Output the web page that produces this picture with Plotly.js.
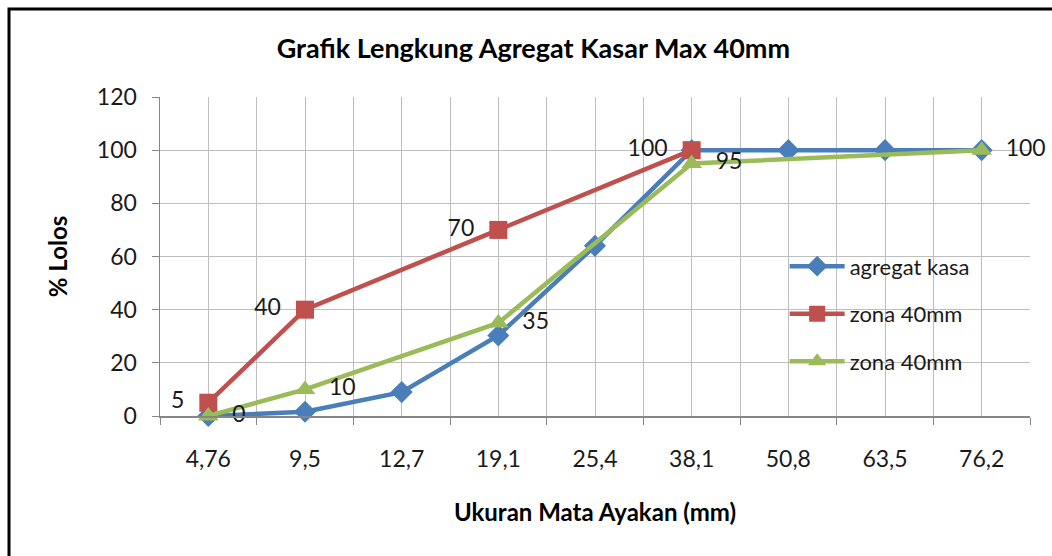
<!DOCTYPE html>
<html>
<head>
<meta charset="utf-8">
<script src="https://cdn.plot.ly/plotly-3.0.1.min.js"></script>
<style>
html,body{margin:0;padding:0;background:#fff;}
#chart{width:1052px;height:556px;}
</style>
</head>
<body>
<div id="chart"></div>
<script>
// Sieve sizes (mm)
const categories = ["4,76", "9,5", "12,7", "19,1", "25,4", "38,1", "50,8", "63,5", "76,2"];
// % passing
const agregatKasar = [0, 1.6, 9, 30.3, 64, 100, 100, 100, 100];
const zonaAtas = [5, 40, null, 70, null, 100, null, null, null];
const zonaBawah = [0, 10, null, 35, null, 95, null, null, 100];
const seriesNames = ["agregat kasa", "zona 40mm", "zona 40mm"];
const yTicks = [0, 20, 40, 60, 80, 100, 120];

const idx = categories.map((_, i) => i);
const bounds = categories.map((_, i) => i - 0.5).concat([categories.length - 0.5]);

const FONT = "Lato, 'Open Sans', sans-serif";
const labelFont = {family: FONT, size: 23, color: "#1a1a1a"};

const traces = [
  {
    x: idx, y: agregatKasar, name: seriesNames[0], type: "scatter", mode: "lines+markers",
    line: {color: "#4A7EBB", width: 4.5},
    marker: {symbol: "diamond", size: 17, color: "#4A7EBB"},
    legendgroup: "a", cliponaxis: false
  },
  {
    x: idx, y: zonaAtas, name: seriesNames[1], type: "scatter", mode: "lines+markers+text",
    connectgaps: true,
    line: {color: "#C0504D", width: 4.5},
    marker: {symbol: "square", size: 18, color: "#C0504D"},
    text: zonaAtas.map(v => v === null ? "" : String(v)),
    texttemplate: "%{text}  ",
    textposition: "middle left", textfont: labelFont,
    legendgroup: "b", cliponaxis: false
  },
  {
    x: idx, y: zonaBawah, name: seriesNames[2], type: "scatter", mode: "lines+markers+text",
    connectgaps: true,
    line: {color: "#9BBB59", width: 4.5},
    marker: {symbol: "triangle-up", size: 18, color: "#9BBB59"},
    text: zonaBawah.map(v => v === null ? "" : String(v)),
    texttemplate: "  %{text}",
    textposition: "middle right", textfont: labelFont,
    legendgroup: "c", cliponaxis: false
  }
];

const gridColor = "#BEBEBE";
const axisColor = "#868686";

const layout = {
  width: 1052, height: 556,
  margin: {l: 160, r: 22, t: 97, b: 140},
  paper_bgcolor: "#fff", plot_bgcolor: "#fff",
  font: {family: FONT, color: "#1a1a1a"},
  title: {
    text: "<b>Grafik Lengkung Agregat Kasar Max 40mm</b>",
    font: {family: FONT, size: 27, color: "#000"},
    x: 0.507, xanchor: "center", y: 0.913, yanchor: "middle"
  },
  xaxis: {
    range: [-0.5, categories.length - 0.5],
    tickmode: "array", tickvals: idx, ticktext: categories,
    ticks: "", showgrid: true, gridcolor: gridColor, gridwidth: 1,
    minor: {tickmode: "array", tickvals: bounds, ticks: "outside", ticklen: 7, tickcolor: axisColor,
            showgrid: true, gridcolor: gridColor, gridwidth: 1},
    showline: true, linecolor: axisColor, linewidth: 1.5,
    zeroline: false, fixedrange: true,
    ticklabelstandoff: 22,
    tickfont: {family: FONT, size: 23, color: "#1a1a1a"},
    title: {text: "<b>Ukuran Mata Ayakan (mm)</b>", font: {family: FONT, size: 24, color: "#000"}, standoff: 33}
  },
  yaxis: {
    range: [0, 120], tickmode: "array", tickvals: yTicks,
    ticks: "outside", ticklen: 7, tickcolor: axisColor,
    showgrid: true, gridcolor: gridColor, gridwidth: 1,
    showline: true, linecolor: axisColor, linewidth: 1.5,
    zeroline: false, fixedrange: true,
    ticklabelstandoff: 10,
    tickfont: {family: FONT, size: 23, color: "#1a1a1a"},
    title: {text: "<b>% Lolos</b>", font: {family: FONT, size: 24, color: "#000"}, standoff: 22}
  },
  legend: {
    x: 0.718, y: 0.535, xanchor: "left", yanchor: "top",
    bgcolor: "rgba(0,0,0,0)", borderwidth: 0,
    font: {family: FONT, size: 22, color: "#1a1a1a"},
    itemwidth: 55, tracegroupgap: 16
  },
  showlegend: true,
  shapes: [{
    type: "rect", xref: "paper", yref: "paper",
    x0: (9 - 160) / 870, x1: (1070 - 160) / 870,
    y0: (416 - 620) / 319, y1: (416 - 9) / 319,
    line: {color: "#000", width: 3}, fillcolor: "rgba(0,0,0,0)", layer: "above"
  }]
};

Plotly.newPlot("chart", traces, layout, {displayModeBar: false, staticPlot: true});
</script>
</body>
</html>
